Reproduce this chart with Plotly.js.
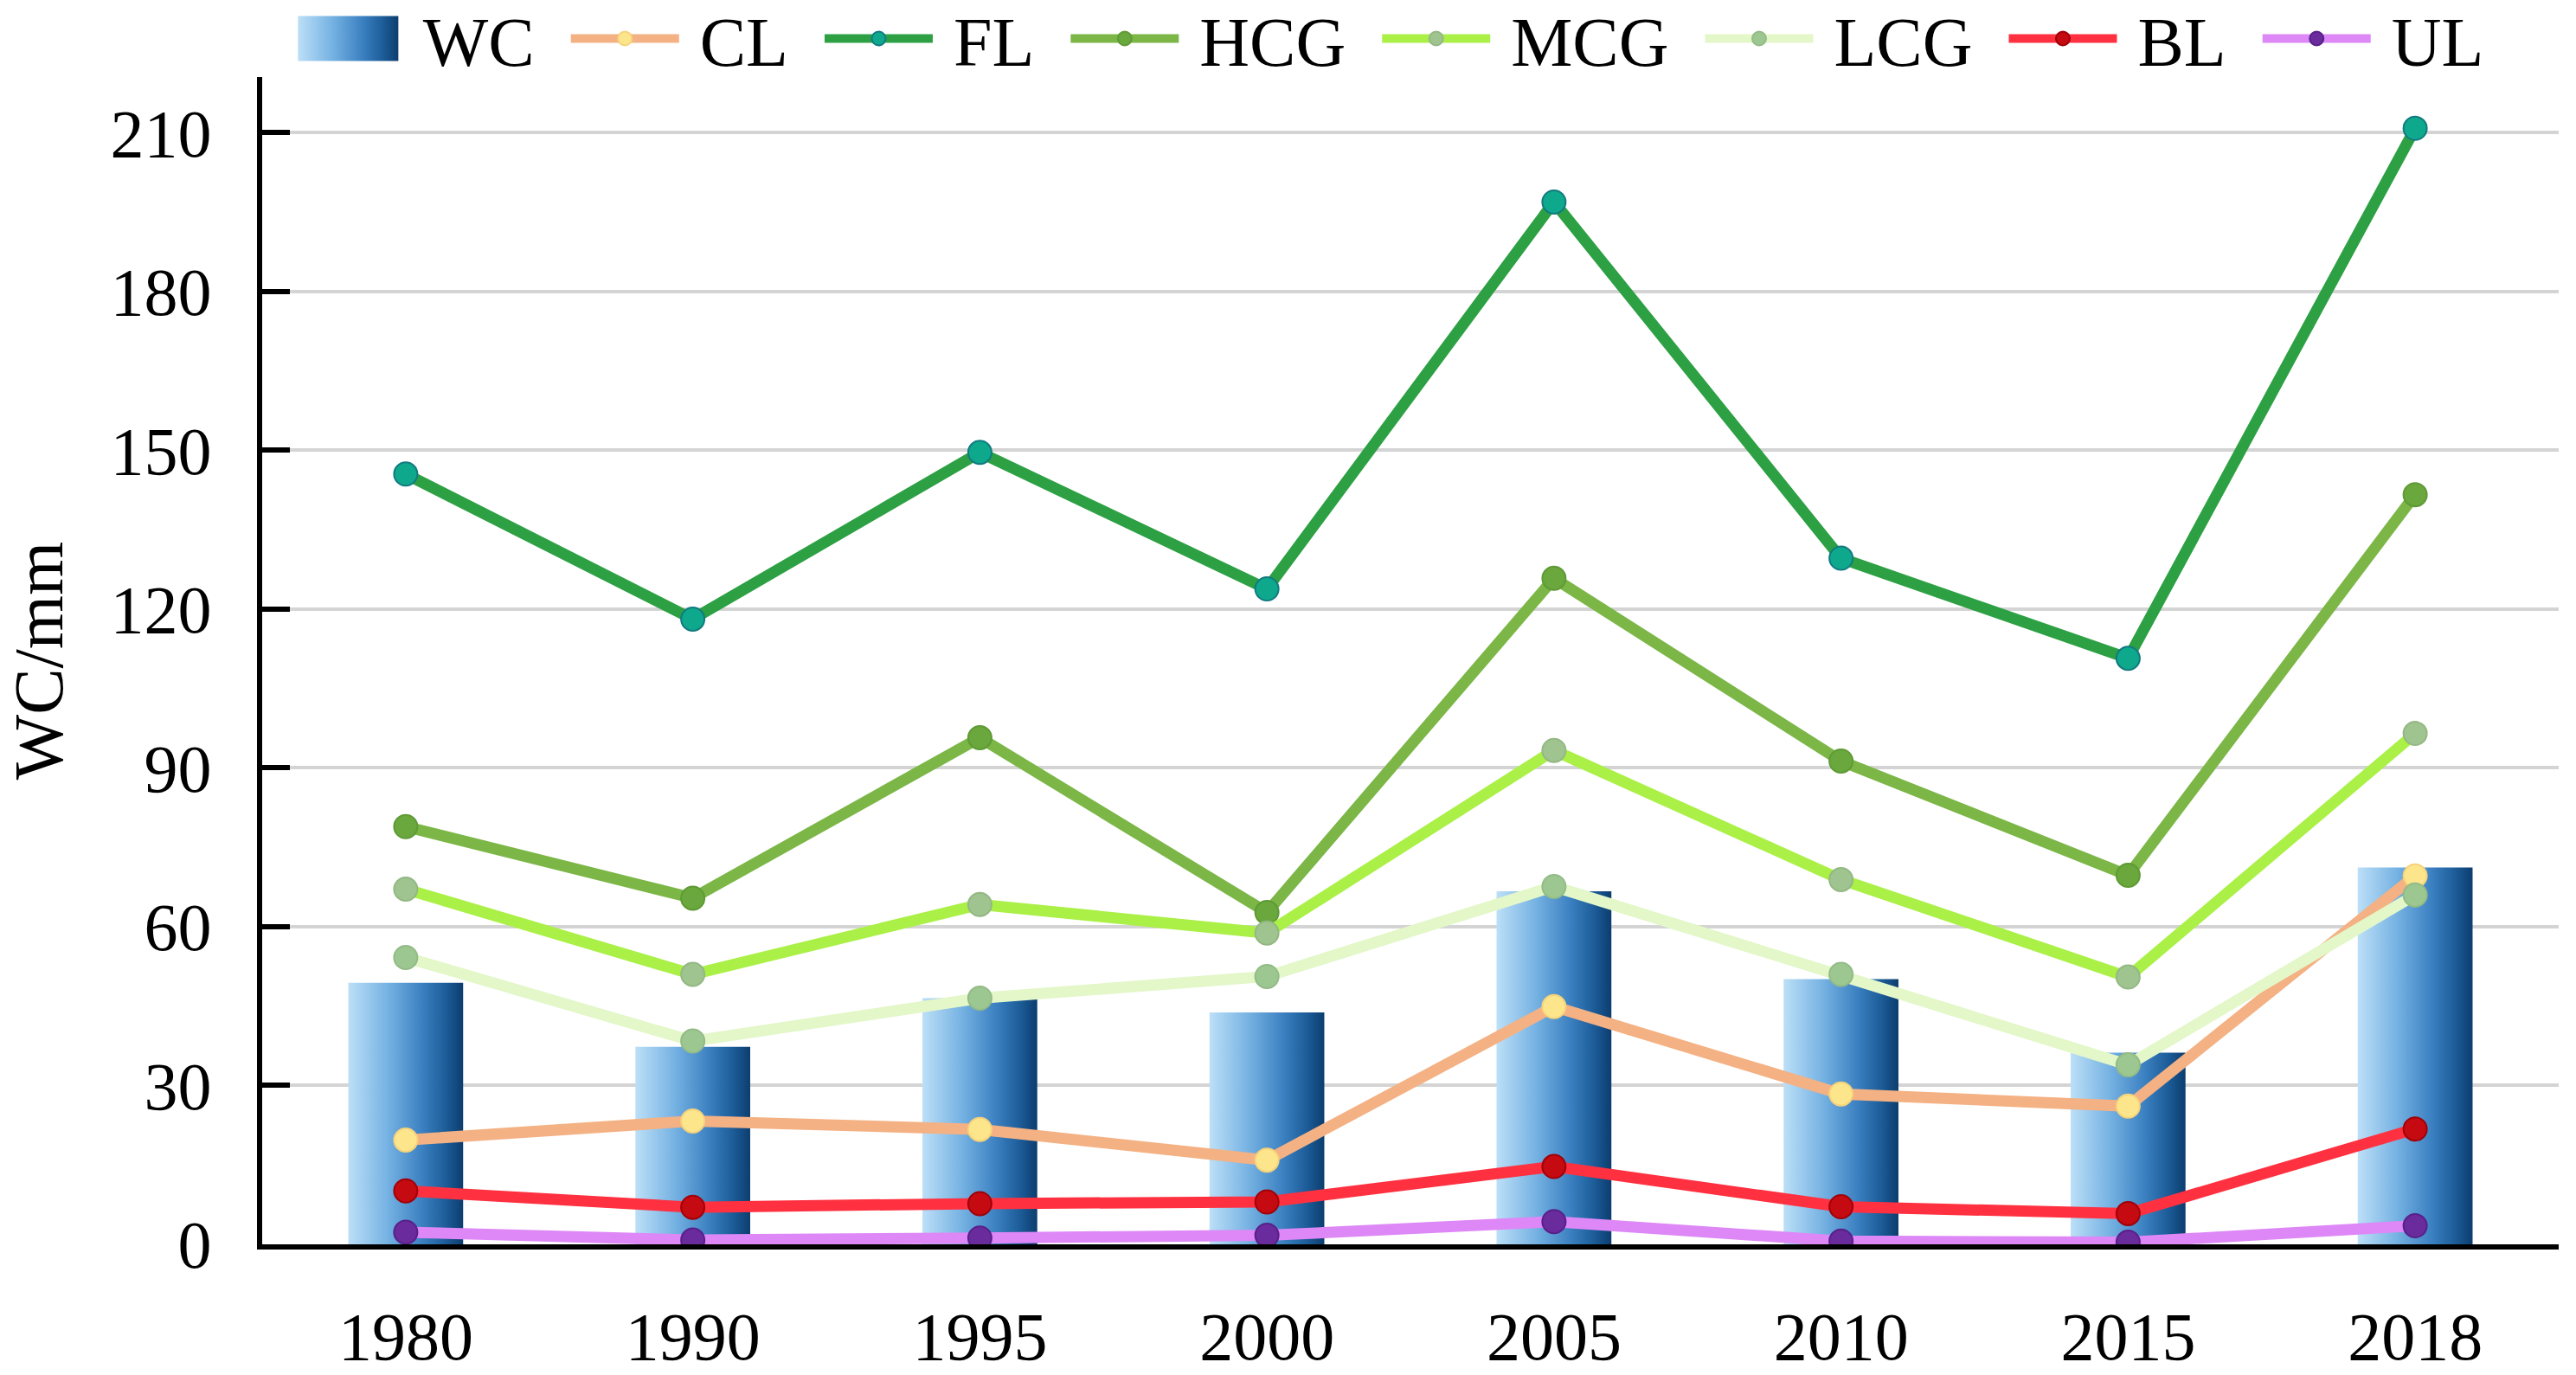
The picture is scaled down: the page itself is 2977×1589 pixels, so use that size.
<!DOCTYPE html>
<html>
<head>
<meta charset="utf-8">
<script src="https://cdn.plot.ly/plotly-3.0.1.min.js"></script>
<style>
html,body{margin:0;padding:0;background:#fff;}
#chart{width:2977px;height:1589px;}
</style>
</head>
<body>
<div id="chart"></div>
<script>
// ---- data ----
const years = ['1980','1990','1995','2000','2005','2010','2015','2018'];
const WC  = [49.4, 37.3, 46.5, 43.8, 66.7, 50.1, 36.2, 71.2];
const CL  = [19.7, 23.3, 21.7, 15.9, 44.9, 28.4, 26.1, 69.6];
const FL  = [145.5, 118.1, 149.6, 123.8, 196.9, 129.6, 110.7, 210.8];
const HCG = [78.9, 65.4, 95.7, 62.7, 125.8, 91.3, 69.7, 141.6];
const MCG = [67.1, 51.0, 64.2, 58.8, 93.3, 68.9, 50.5, 96.5];
const LCG = [54.2, 38.4, 46.5, 50.6, 67.6, 51.0, 33.9, 66.0];
const BL  = [10.1, 7.0, 7.7, 8.0, 14.7, 7.1, 5.8, 21.8];
const UL  = [2.3, 0.8, 1.2, 1.7, 4.3, 0.6, 0.4, 3.5];
const yTicks = [0, 30, 60, 90, 120, 150, 180, 210];

const FONT = '"Liberation Serif", "Times New Roman", serif';

function lineTrace(name, y, lineColor, markerColor, edgeColor) {
  return {
    type: 'scatter', mode: 'lines+markers', name: name,
    x: years, y: y,
    line: {color: lineColor, width: 13},
    marker: {color: markerColor, size: 27, line: {color: edgeColor, width: 2}}
  };
}

const traces = [
  {type: 'bar', name: 'WC', x: years, y: WC, width: 0.4,
   marker: {color: '#3b82c4', line: {width: 0}}},
  lineTrace('CL',  CL,  '#f4b183', '#fde58c', '#f6d27a'),
  lineTrace('FL',  FL,  '#2da044', '#0ea98c', '#127a80'),
  lineTrace('HCG', HCG, '#7bb646', '#6aa73c', '#5e9a36'),
  lineTrace('MCG', MCG, '#aaf046', '#9fc48f', '#93b884'),
  lineTrace('LCG', LCG, '#e3f7c9', '#9dc791', '#93bb86'),
  lineTrace('BL',  BL,  '#ff3140', '#c50a12', '#a00008'),
  lineTrace('UL',  UL,  '#dd88f6', '#6a2b9c', '#58208a')
];

const layout = {
  width: 2977, height: 1589,
  margin: {l: 303, r: 20, t: 89, b: 151, autoexpand: false},
  paper_bgcolor: '#ffffff', plot_bgcolor: '#ffffff',
  font: {family: FONT, color: '#000', size: 78},
  showlegend: true,
  legend: {
    orientation: 'h', x: 0.012, xanchor: 'left', y: 1, yanchor: 'top', yref: 'container',
    font: {family: FONT, size: 80, color: '#000'},
    itemwidth: 125, traceorder: 'normal', bgcolor: 'rgba(0,0,0,0)'
  },
  xaxis: {
    type: 'category', range: [-0.5, 7.5],
    showline: true, linecolor: '#000', linewidth: 6,
    ticks: '', showgrid: false, zeroline: false,
    tickfont: {family: FONT, size: 78, color: '#000'},
    ticklabelstandoff: 33
  },
  yaxis: {
    range: [0, 220.5], tickmode: 'array', tickvals: yTicks, ticktext: yTicks.map(String),
    showline: true, linecolor: '#000', linewidth: 6,
    ticks: 'inside', ticklen: 32, tickwidth: 6, tickcolor: '#000',
    showgrid: true, gridcolor: '#d4d4d4', gridwidth: 4, zeroline: false,
    tickfont: {family: FONT, size: 78, color: '#000'},
    ticklabelstandoff: 37,
    title: {text: 'WC/mm', font: {family: FONT, size: 80, color: '#000'}, standoff: 30}
  }
};

Plotly.newPlot('chart', traces, layout, {displayModeBar: false, staticPlot: true}).then(function (gd) {
  // horizontal blue gradient for the WC bars
  const svg = gd.querySelector('.main-svg');
  const ns = 'http://www.w3.org/2000/svg';
  let defs = svg.querySelector('defs');
  if (!defs) { defs = document.createElementNS(ns, 'defs'); svg.insertBefore(defs, svg.firstChild); }
  const grad = document.createElementNS(ns, 'linearGradient');
  grad.setAttribute('id', 'wcgrad');
  grad.setAttribute('x1', '0'); grad.setAttribute('y1', '0');
  grad.setAttribute('x2', '1'); grad.setAttribute('y2', '0');
  [['0', '#bcdff7'], ['0.35', '#74b1e2'], ['0.65', '#3a7fc0'], ['0.85', '#1c5c98'], ['1', '#0c3d6e']].forEach(function (s) {
    const st = document.createElementNS(ns, 'stop');
    st.setAttribute('offset', s[0]); st.setAttribute('stop-color', s[1]);
    grad.appendChild(st);
  });
  defs.appendChild(grad);
  gd.querySelectorAll('.barlayer .point path').forEach(function (p) { p.style.fill = 'url(#wcgrad)'; });

  // legend: wider spacing between entries and between symbol and text, nudged up
  const items = gd.querySelectorAll('.legend .traces');
  const EXTRA = 32, TEXTSHIFT = 19, LIFT = 14;
  items.forEach(function (g, i) {
    const tr = g.getAttribute('transform') || '';
    const m = tr.match(/translate\(\s*([-\d.]+)[ ,]+([-\d.]+)\s*\)/);
    if (m) {
      const nx = parseFloat(m[1]) + i * (EXTRA + TEXTSHIFT);
      const ny = parseFloat(m[2]) - LIFT;
      g.setAttribute('transform', 'translate(' + nx + ',' + ny + ')');
    }
    const t = g.querySelector('text.legendtext');
    if (t) t.setAttribute('x', parseFloat(t.getAttribute('x') || 0) + TEXTSHIFT);
  });
  const legBar = gd.querySelector('.legend .traces .legendpoints path');
  if (legBar) {
    legBar.style.fill = 'url(#wcgrad)';
    legBar.setAttribute('d', 'M-58,-26H58V26H-58Z');
  }
  const bg = gd.querySelector('.legend .bg');
  if (bg) bg.setAttribute('width', 2900);
  document.querySelectorAll('clipPath[id^="legend"] rect').forEach(function (r) {
    r.setAttribute('width', 2900);
    r.setAttribute('y', -40);
    r.setAttribute('height', 200);
  });
});
</script>
</body>
</html>
